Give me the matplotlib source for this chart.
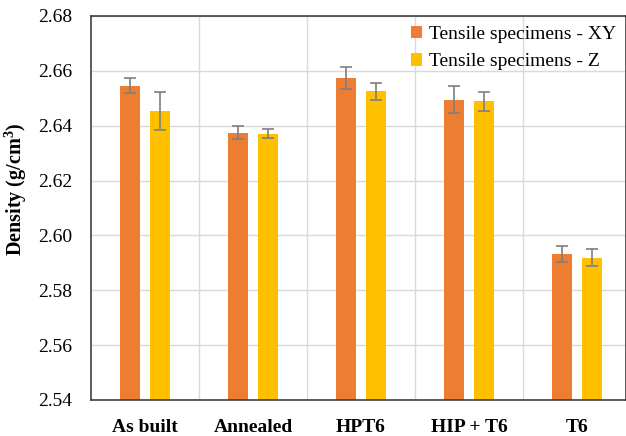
import numpy as np
import matplotlib.pyplot as plt
from matplotlib.ticker import FixedLocator

# Density of tensile specimens per heat treatment
categories = ["As built", "Annealed", "HPT6", "HIP + T6", "T6"]
density_xy = [2.6546, 2.6375, 2.6573, 2.6495, 2.5932]
error_xy = [0.0028, 0.0024, 0.0040, 0.0050, 0.0028]
density_z = [2.6453, 2.6371, 2.6525, 2.6489, 2.5918]
error_z = [0.0070, 0.0017, 0.0030, 0.0034, 0.0031]
series_names = ["Tensile specimens - XY", "Tensile specimens - Z"]

plt.rcParams["font.family"] = ["Liberation Serif", "DejaVu Serif"]

fig = plt.figure(figsize=(6.26, 4.36), dpi=100)
ax = fig.add_axes([91 / 626, 36 / 436, 535 / 626, 384 / 436])

x = np.arange(len(categories))
width = 0.194
offset = 0.139

ax.bar(x - offset, density_xy, width, color="#ED7D31", label=series_names[0], zorder=2,
       yerr=error_xy, error_kw=dict(ecolor="#7f7f7f", elinewidth=1.2, capsize=4, capthick=1.2))
ax.bar(x + offset, density_z, width, color="#FFC000", label=series_names[1], zorder=2,
       yerr=error_z, error_kw=dict(ecolor="#7f7f7f", elinewidth=1.2, capsize=4, capthick=1.2))

ax.set_ylim(2.54, 2.68)
ax.set_yticks(np.arange(2.54, 2.681, 0.02))
ax.set_yticklabels([f"{v:.2f}" for v in np.arange(2.54, 2.681, 0.02)], fontsize=14)
ax.set_xlim(-0.5, -0.5 + 535 / 108)
ax.set_xticks(x)
ax.set_xticklabels(categories, fontsize=14, fontweight="bold")
ax.xaxis.set_minor_locator(FixedLocator(x[:-1] + 0.5))
ax.tick_params(axis="both", which="both", length=0)
ax.tick_params(axis="x", pad=14)
ax.tick_params(axis="y", pad=13.5)

ax.grid(True, axis="y", which="major", color="#d9d9d9", linewidth=1, zorder=0)
ax.grid(True, axis="x", which="minor", color="#d9d9d9", linewidth=1, zorder=0)
ax.set_axisbelow(True)

for side in ["left", "bottom", "top", "right"]:
    ax.spines[side].set_color("#404040")
    ax.spines[side].set_linewidth(1.2)

ax.set_ylabel("Density (g/cm$^\\mathregular{3}$)", fontsize=14.5, fontweight="bold")
ax.yaxis.set_label_coords(-0.116, 0.55)

leg = ax.legend(loc="upper right", bbox_to_anchor=(1.0, 1.0), frameon=False, fontsize=14,
                handlelength=0.6, handleheight=0.6, handletextpad=0.35, labelspacing=0.55,
                borderaxespad=0.1)

fig.savefig("out.png", dpi=100)
